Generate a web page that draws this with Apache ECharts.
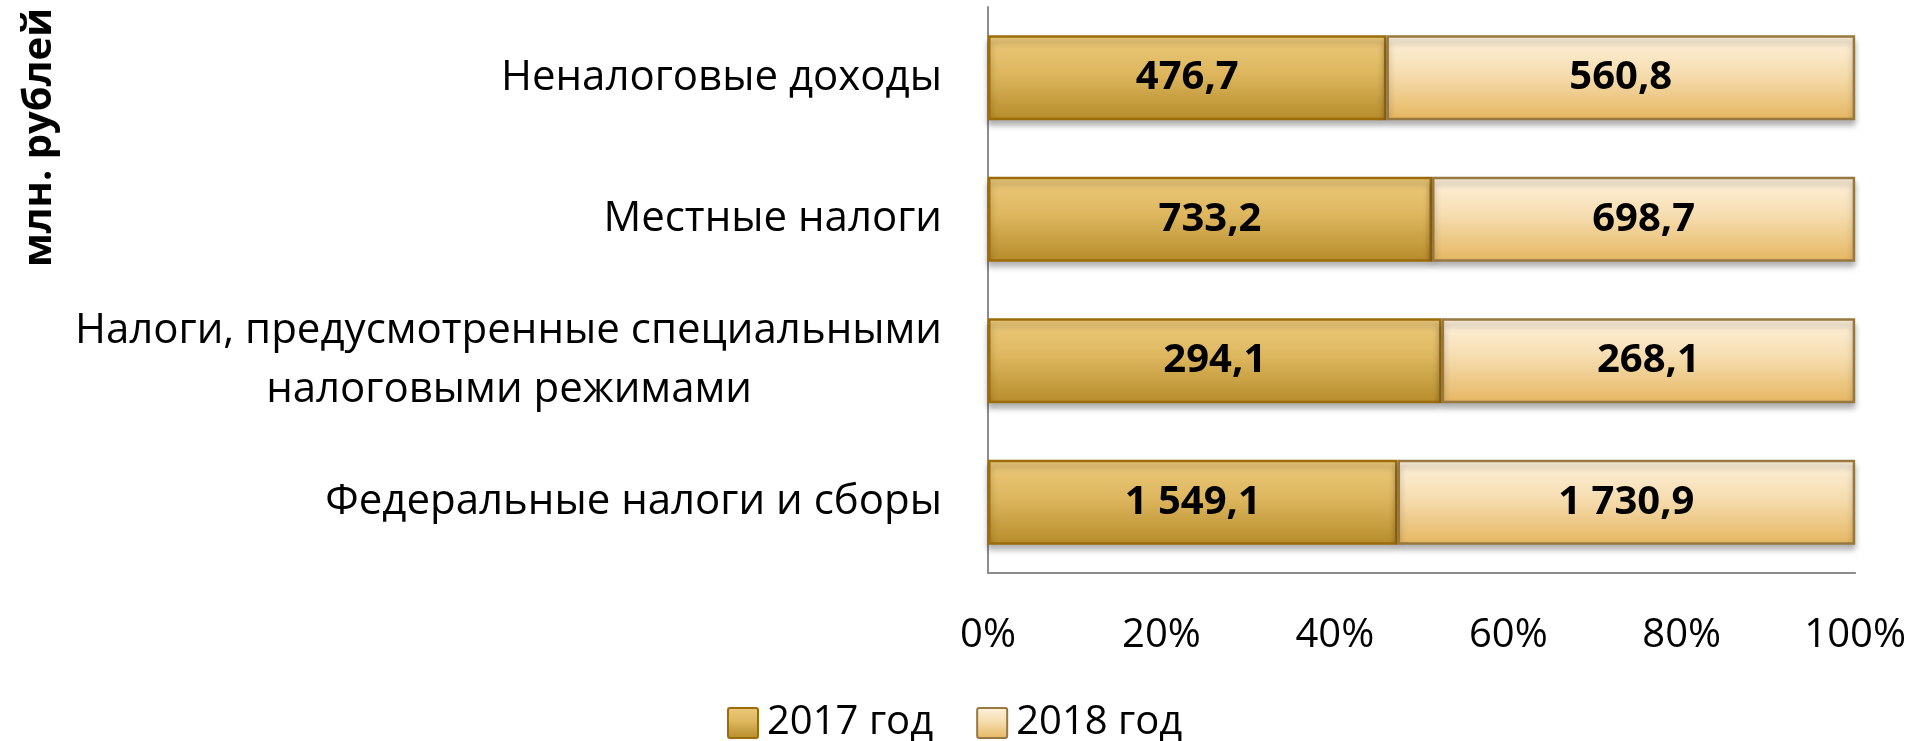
<!DOCTYPE html>
<html>
<head>
<meta charset="utf-8">
<script src="https://cdn.jsdelivr.net/npm/echarts@6/dist/echarts.min.js"></script>
<style>
    html, body { margin: 0; padding: 0; background: #fff; }
    #chart { width: 1909px; height: 741px; }
</style>
</head>
<body>
<div id="chart"></div>
<script>
// категории снизу вверх
var categories = [
    'Федеральные налоги и сборы',
    '{a|Налоги, предусмотренные специальными}\n{b|налоговыми режимами}',
    'Местные налоги',
    'Неналоговые доходы'
]
var values2017 = [1549.1, 294.1, 733.2, 476.7] // 2017 год
var values2018 = [1730.9, 268.1, 698.7, 560.8] // 2018 год
var tickLabels = ['0%', '20%', '40%', '60%', '80%', '100%']

// доли для 100% накопления
var share2017 = values2017.map(function (v, i) { return v / (v + values2018[i]) * 100 })
var share2018 = values2018.map(function (v, i) { return v / (v + values2017[i]) * 100 })

function fmt(v) {
    var parts = v.toFixed(1).split('.')
    var int = parts[0].replace(/\B(?=(\d{3})+(?!\d))/g, ' ')
    return int + ',' + parts[1]
}

var font = '"Open Sans", "Noto Sans", sans-serif'

var myChart = echarts.init(document.getElementById('chart'))
myChart.setOption({
    animation: false,
    grid: { left: 988, right: 52, top: 7, bottom: 168 },
    graphic: [{
        type: 'text',
        left: 20,
        top: 8,
        rotation: Math.PI / 2,
        style: {
            text: 'млн. рублей',
            font: 'bold 40px ' + font,
            fill: '#000'
        }
    }],
    legend: {
        left: 722,
        top: 698,
        icon: 'path://M2,0 L28,0 Q30,0 30,2 L30,28 Q30,30 28,30 L2,30 Q0,30 0,28 L0,2 Q0,0 2,0 Z',
        itemWidth: 30,
        itemHeight: 30,
        itemGap: 43,
        textStyle: { fontFamily: font, fontSize: 40, color: '#000', padding: [0, 0, 0, 4] },
        data: ['2017 год', '2018 год']
    },
    xAxis: {
        type: 'value',
        min: 0,
        max: 100,
        interval: 20,
        axisLine: { show: true, lineStyle: { color: '#8c8c8c', width: 2 } },
        axisTick: { show: false },
        splitLine: { show: false },
        axisLabel: {
            margin: 43,
            fontFamily: font,
            fontSize: 40,
            color: '#000',
            formatter: function (v) { return tickLabels[v / 20] }
        }
    },
    yAxis: {
        type: 'category',
        data: categories,
        axisLine: { show: true, lineStyle: { color: '#8c8c8c', width: 2 } },
        axisTick: { show: false },
        axisLabel: {
            margin: 46,
            fontFamily: font,
            fontSize: 42,
            color: '#000',
            lineHeight: 59,
            rich: {
                a: { fontFamily: font, fontSize: 42, color: '#000', lineHeight: 59 },
                b: { fontFamily: font, fontSize: 42, color: '#000', lineHeight: 59, padding: [0, 190, 0, 0] }
            }
        }
    },
    series: [
        {
            name: '2017 год',
            type: 'bar', //накопленная полоса
            stack: 'total',
            barWidth: '60%',
            data: share2017,
            itemStyle: {
                color: new echarts.graphic.LinearGradient(0, 0, 0, 1, [
                    { offset: 0, color: '#EDCB7D' },
                    { offset: 0.45, color: '#DDB65E' },
                    { offset: 1, color: '#B68C2A' }
                ]),
                borderColor: '#9C6B0A',
                borderWidth: 2.5,
                shadowColor: 'rgba(0,0,0,0.3)',
                shadowBlur: 6,
                shadowOffsetY: 5
            },
            label: {
                show: true,
                position: 'inside',
                fontFamily: font,
                fontWeight: 'bold',
                fontSize: 40,
                color: '#000',
                formatter: function (p) { return fmt(values2017[p.dataIndex]) }
            }
        },
        {
            name: '2018 год',
            type: 'bar',
            stack: 'total',
            barWidth: '60%',
            data: share2018,
            itemStyle: {
                color: new echarts.graphic.LinearGradient(0, 0, 0, 1, [
                    { offset: 0, color: '#FEF2DE' },
                    { offset: 0.45, color: '#F6DDB0' },
                    { offset: 1, color: '#E5B660' }
                ]),
                borderColor: '#977840',
                borderWidth: 2.5,
                shadowColor: 'rgba(0,0,0,0.3)',
                shadowBlur: 6,
                shadowOffsetY: 5
            },
            label: {
                show: true,
                position: 'inside',
                fontFamily: font,
                fontWeight: 'bold',
                fontSize: 40,
                color: '#000',
                formatter: function (p) { return fmt(values2018[p.dataIndex]) }
            }
        }
    ]
})
</script>
</body>
</html>
